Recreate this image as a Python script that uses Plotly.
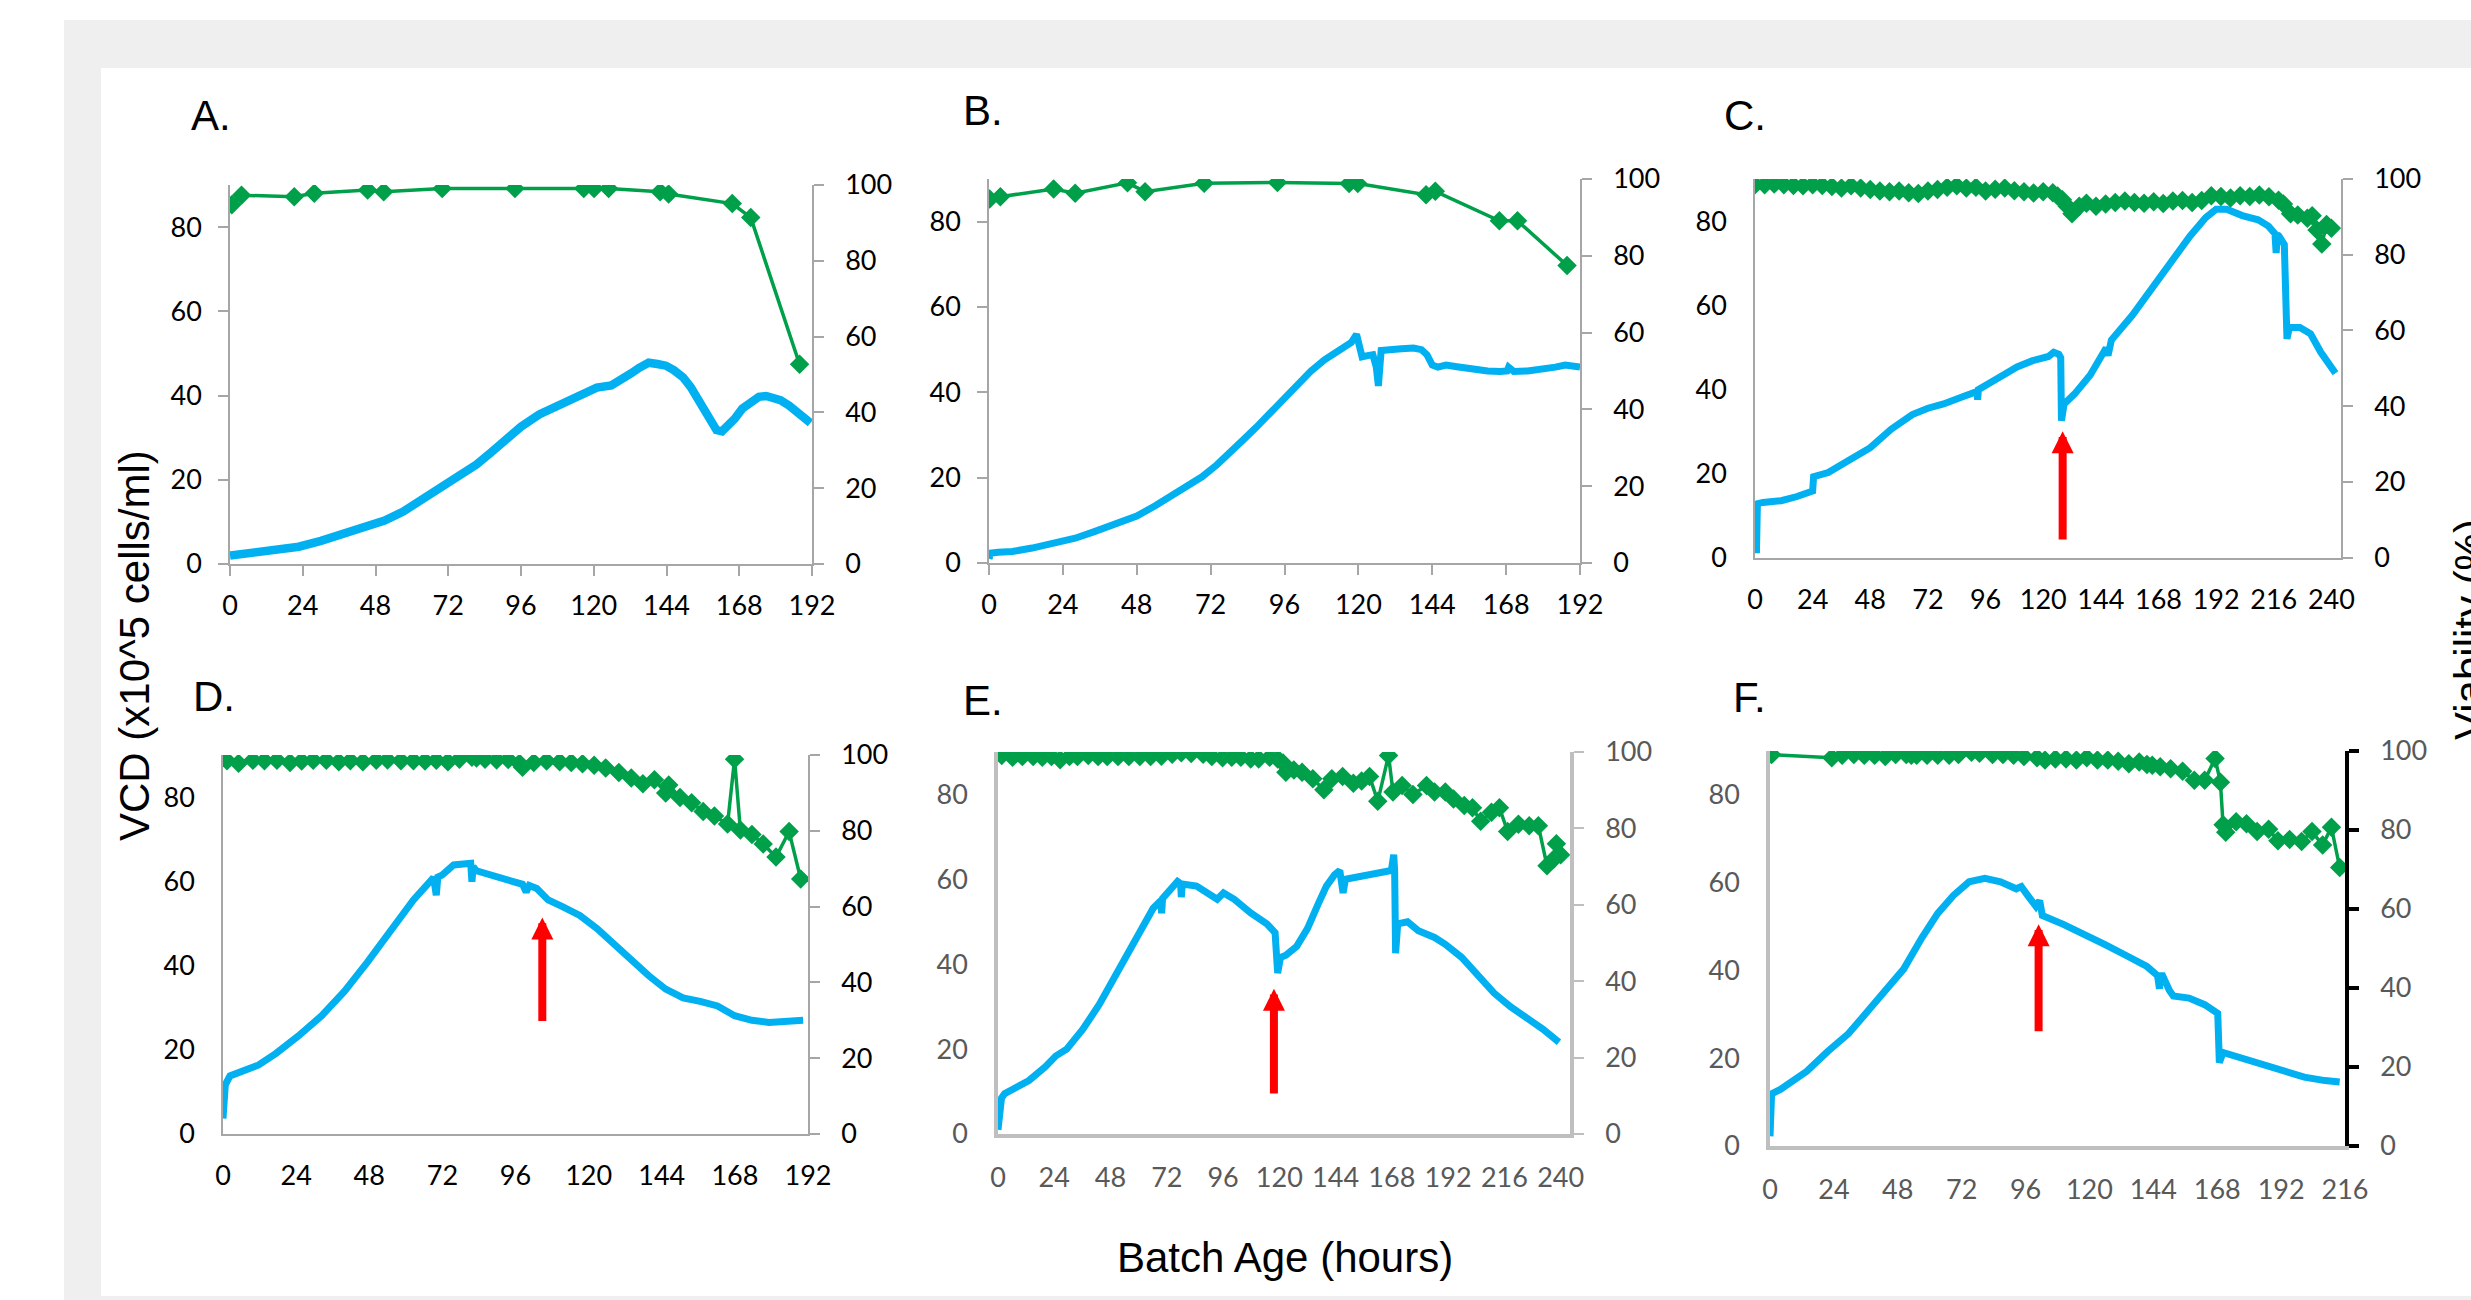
import plotly.graph_objects as go

W, H = 2471, 1300

# ---------------- data ----------------
# Panel A
a_vcd_t = [0, 3, 8, 14, 22.7, 30, 37.8, 45, 51, 57, 62.4, 67, 71.9, 77, 81.3, 86, 90.8, 96, 102, 107, 111.6, 116, 121,
           125.8, 129, 132.4, 135, 138.1, 141, 143.8, 146.5, 149.5, 152, 154.2, 156.5, 158.9, 160.5, 162.3, 164, 166.5,
           169, 172.2, 174.5, 176.9, 179, 181.6, 184.5, 187.3, 189.5, 191.5]
a_vcd = [2.0, 2.3, 2.8, 3.3, 4.1, 5.5, 7.4, 8.8, 10.3, 12.4, 14.8, 16.8, 18.9, 21.2, 23.6, 26.4, 29.6, 32.6, 35.5, 37.2,
         38.6, 40.4, 41.9, 42.4, 43.6, 45.3, 46.6, 47.8, 47.5, 47.1, 46.0, 44.3, 42.0, 39.4, 36.2, 33.0, 31.8, 31.5, 32.5,
         34.5, 36.9, 38.9, 39.7, 39.9, 39.6, 38.9, 37.6, 36.0, 34.8, 33.5]
a_via_t = [0.6, 3.8, 21.2, 27.8, 45.4, 50.7, 70, 94, 116.7, 120.1, 124.9, 141.9, 144.7, 165.7, 171.8, 187.9]
a_via = [94.8, 97.3, 96.9, 97.8, 98.7, 98.2, 99.1, 99.1, 99.1, 99.1, 99.1, 98.2, 97.6, 95.1, 91.4, 52.7]

# Panel B
b_vcd_t = [0, 0.5, 3, 7.6, 14, 21.7, 28, 34, 41, 48, 54, 60.4, 65, 69.2, 74, 78, 82.5, 86.8, 91, 95.6, 100, 104.5, 109,
           113.3, 117.7, 119.4, 120.3, 121.2, 123, 124.7, 125.8, 126.5, 127.4, 130.9, 134, 137.9, 140.5, 142.3, 144,
           145.8, 148.5, 152, 157.3, 162, 166, 168.3, 168.8, 170.5, 175, 180.2, 184, 187.2, 190, 192]
b_vcd = [1.0, 2.3, 2.5, 2.7, 3.5, 4.7, 5.8, 7.3, 9.0, 11.0, 13.4, 16.3, 18.2, 20.2, 23.0, 26.0, 28.8, 31.8, 34.9, 38.1,
         41.5, 44.9, 47.6, 49.8, 51.7, 53.6, 50.2, 48.3, 48.6, 48.8, 46.0, 41.5, 49.8, 49.8, 50.2, 50.4, 50.0, 48.8, 46.4,
         45.9, 46.4, 46.0, 45.4, 45.0, 44.9, 45.0, 45.9, 44.9, 45.0, 45.4, 45.9, 46.4, 46.2, 45.9]
b_via_t = [0.2, 3.7, 21, 28, 45, 50.7, 69.9, 93.7, 117, 119.8, 142, 145, 165.8, 171.7, 187.8]
b_via = [94.8, 95.4, 97.4, 96.3, 99.0, 96.7, 98.9, 99.1, 98.8, 98.8, 95.9, 96.8, 89.1, 89.1, 77.5]

# Panel C
c_vcd_t = [0.6, 1.0, 3.3, 10.9, 17.5, 24.0, 24.4, 30.5, 39.3, 48.0, 56.7, 65.5, 72.0, 78.5, 87.3, 92.5, 92.7, 93.0,
           100.4, 109.1, 115.6, 122.2, 124.4, 126.5, 127.3, 127.6, 128.7, 133.1, 139.6, 146.2, 147, 148.4, 157.1, 165.8,
           169.1, 174.5, 181.1, 187.6, 192.0, 196.4, 202.9, 209.5, 213.8, 216.5, 217.0, 217.5, 218.2, 220.4, 220.9,
           221.5, 222.5, 226.9, 231.3, 235.6, 241.7]
c_vcd = [1.0, 12.8, 13.1, 13.5, 14.5, 15.8, 19.2, 20.2, 23.2, 26.1, 30.5, 34.0, 35.5, 36.5, 38.4, 39.5, 37.5, 39.9, 42.4,
         45.3, 46.8, 47.8, 48.8, 48.3, 47.5, 32.5, 36.5, 38.9, 43.4, 49.8, 48.0, 51.7, 57.6, 64.5, 67.5, 71.4, 76.4, 80.8,
         82.8, 82.8, 81.3, 80.3, 78.8, 77.0, 72.4, 76.8, 76.4, 74.4, 60.0, 52.0, 54.7, 54.7, 53.2, 48.8, 43.8]
c_via_t = [0, 4, 8, 12, 16, 20, 24, 28, 32, 36, 40, 44, 48, 52, 56, 60, 64, 68, 72, 76, 80, 84, 88, 92, 96, 100, 104,
           108, 112, 116, 120, 124, 126, 128, 130, 132, 135, 138, 142, 146, 150, 154, 158, 162, 166, 170, 174, 178, 182,
           186, 190, 194, 198, 202, 206, 210, 214, 218, 220, 223, 226, 230, 232, 234, 236, 238, 240]
c_via = [98.5, 98.5, 98.7, 98.5, 98.3, 98.2, 98.5, 98.3, 98.0, 97.6, 98.2, 97.6, 97.2, 96.8, 96.6, 96.8, 96.4, 96.2,
         96.8, 97.2, 97.8, 98.2, 97.6, 97.8, 96.8, 97.3, 97.6, 96.9, 96.6, 96.3, 96.6, 96.4, 95.5, 94.5, 92.8, 90.8,
         92.8, 93.6, 92.8, 93.4, 93.8, 94.2, 93.8, 93.6, 94.0, 93.5, 94.2, 94.3, 93.8, 94.3, 95.6, 95.4, 95.0, 95.6,
         95.4, 95.8, 95.3, 94.4, 93.4, 90.8, 90.5, 89.6, 90.3, 86.5, 82.8, 88.0, 87.0]

# Panel D
d_vcd_t = [0, 0.75, 2.3, 6, 11.7, 17.3, 24.8, 32.4, 39.9, 47.4, 55, 62.5, 69.1, 70.0, 70.5, 71.9, 75.7, 81.3, 81.7, 82.1,
           83.2, 90.7, 98.3, 99.5, 100.5, 103, 106.7, 111.4, 117.1, 122.7, 128.4, 134, 139.7, 145.3, 151, 156.6, 162.3,
           167.9, 173.6, 179.2, 184.8, 190.4]
d_vcd = [3.7, 11.7, 13.8, 14.8, 16.4, 19.1, 23.3, 28.1, 33.9, 40.8, 48.2, 55.6, 60.9, 56.7, 61.0, 61.5, 63.9, 64.3, 59.9,
         63.5, 62.5, 60.7, 59.3, 57.5, 59.0, 58.3, 55.6, 54.0, 51.9, 48.8, 45.0, 41.3, 37.6, 34.4, 32.3, 31.5, 30.4,
         28.1, 27.0, 26.5, 26.8, 27.0]
d_via_t = [1.3, 5.1, 9.8, 13.6, 17.7, 22.0, 25.8, 29.6, 33.9, 38.0, 41.8, 45.9, 50.3, 54.0, 58.4, 62.5, 66.3, 70.0, 73.8,
           77.6, 81.7, 83.2, 86.0, 89.8, 93.6, 97.3, 98.3, 102.0, 106.2, 110.5, 114.3, 118.0, 121.8, 125.6, 129.9,
           134.0, 137.8, 141.6, 145.3, 146.3, 150.0, 153.8, 157.6, 161.3, 165.6, 167.9, 169.8, 173.6, 177.3, 181.5,
           185.8, 189.6]
d_via = [98.5, 97.8, 98.6, 98.5, 98.6, 98.0, 98.4, 98.6, 98.6, 98.2, 98.5, 98.2, 98.6, 98.7, 98.5, 98.5, 98.4, 98.6,
         98.2, 98.9, 99.4, 99.2, 98.9, 98.7, 98.8, 97.8, 96.8, 98.0, 98.4, 98.2, 98.0, 97.7, 97.3, 96.6, 95.4, 93.9,
         92.4, 93.5, 90.0, 92.1, 88.8, 87.4, 85.1, 83.9, 81.8, 98.9, 80.2, 79.0, 76.5, 73.1, 79.8, 67.3]

# Panel E
e_vcd_t = [0, 0.7, 1.5, 2.8, 6.2, 13.2, 20.1, 24.7, 29.3, 36.2, 43.2, 50.1, 57.0, 61.6, 66.2, 69.5, 69.8, 70.2, 73.2,
           76.6, 77.9, 78.2, 78.6, 84.7, 89.3, 93.5, 96.2, 100.8, 107.8, 114.7, 118.2, 119.3, 120.5, 122.8, 127.4, 132.0,
           136.6, 140.1, 143.6, 145.8, 146.6, 147.2, 148.2, 153.9, 160.9, 167.8, 168.8, 169.2, 169.6, 170.5, 174.7,
           179.3, 186.2, 190.8, 197.8, 204.7, 211.6, 218.6, 225.5, 232.4, 239.3]
e_vcd = [1.0, 7.9, 8.5, 9.5, 10.5, 12.6, 15.8, 18.4, 20.0, 24.7, 30.5, 37.4, 44.2, 48.9, 53.2, 55.0, 52.0, 55.5, 57.4,
         59.5, 59.0, 55.8, 58.9, 58.4, 56.8, 55.3, 56.8, 55.3, 52.1, 49.5, 47.4, 37.9, 41.6, 42.1, 44.2, 48.4, 54.2,
         58.4, 61.1, 62.1, 59.0, 56.8, 60.0, 60.5, 61.4, 62.1, 65.8, 62.0, 42.6, 49.5, 50.0, 47.9, 46.3, 44.7, 41.6,
         37.4, 33.2, 30.0, 27.4, 24.7, 21.6]
e_via_t = [1.6, 6.2, 10.4, 15.0, 18.9, 22.8, 26.5, 30.5, 33.9, 38.5, 42.7, 46.6, 51.2, 55.8, 60.5, 65.1, 69.7, 74.3,
           78.2, 82.4, 87.5, 91.2, 95.8, 99.7, 103.6, 107.8, 111.2, 115.9, 119.3, 121.6, 122.8, 126.2, 129.7, 134.3,
           139.0, 142.4, 147.0, 151.6, 155.1, 158.5, 162.0, 166.6, 168.5, 172.4, 177.0, 182.8, 186.2, 190.8, 194.3,
           198.9, 202.4, 205.9, 210.5, 213.9, 217.4, 222.0, 226.6, 230.5, 234.2, 237.0, 238.2, 240.0]
e_via = [99.1, 98.6, 98.8, 98.8, 98.6, 98.8, 98.0, 98.8, 98.8, 99.1, 98.8, 98.8, 98.8, 98.8, 98.8, 98.8, 98.9, 99.4,
         99.8, 99.6, 99.4, 98.8, 98.5, 98.6, 98.6, 98.2, 98.2, 98.6, 98.2, 97.1, 94.7, 95.3, 94.7, 93.0, 90.1, 93.0,
         93.6, 91.8, 92.4, 93.6, 87.1, 99.1, 89.5, 91.2, 88.9, 91.2, 89.5, 89.5, 87.7, 86.0, 85.4, 81.9, 84.2, 85.4,
         79.2, 81.1, 80.7, 80.7, 70.2, 71.9, 76.0, 73.1]

# Panel F
f_vcd_t = [0, 0.6, 3.9, 13.8, 21.6, 29.5, 37.4, 45.2, 50.2, 57.1, 63.0, 68.9, 74.8, 80.7, 86.6, 92.5, 94.4, 97.4, 99.9,
           101.3, 102.3, 110.2, 118.0, 125.9, 133.8, 141.6, 145.6, 146.3, 146.6, 147.5, 150, 151.5, 157.4, 163.3, 168.2,
           168.8, 170.2, 177.1, 185.0, 192.8, 200.7, 208.5, 214.0]
f_vcd = [2.2, 11.9, 12.9, 17.0, 21.5, 25.6, 31.2, 36.8, 40.3, 47.5, 53.0, 57.1, 60.2, 61.0, 60.2, 58.6, 59.1, 56.6, 54.6,
         55.9, 52.5, 50.5, 48.0, 45.9, 43.4, 40.9, 38.8, 35.8, 38.8, 38.8, 35.5, 34.2, 33.7, 32.2, 30.2, 19.0, 21.3,
         20.0, 18.5, 17.0, 15.7, 14.9, 14.6]
f_via_t = [0.6, 23.2, 27.1, 31.5, 35.4, 39.3, 43.3, 47.2, 51.2, 53.1, 55.1, 59.0, 63.0, 67.3, 70.8, 75.7, 78.7, 83.6,
           87.5, 91.5, 95.4, 100.3, 103.3, 107.2, 111.2, 115.1, 119.0, 123.0, 126.9, 130.8, 134.8, 138.7, 141.6, 143.6,
           146.6, 150.5, 155.0, 159.4, 163.3, 167.2, 169.2, 170.2, 171.2, 175.1, 179.0, 183.0, 187.3, 190.8, 195.2,
           199.7, 203.6, 207.6, 210.9, 214.0]
f_via = [99.1, 98.3, 98.9, 99.1, 98.9, 98.9, 98.6, 99.1, 99.1, 98.9, 98.9, 98.9, 98.9, 98.9, 99.1, 99.7, 99.4, 99.1,
         99.1, 98.9, 98.6, 98.3, 97.7, 98.0, 98.0, 97.7, 98.3, 97.7, 97.7, 97.4, 96.8, 97.2, 96.6, 96.4, 96.0, 95.5,
         94.9, 92.6, 92.6, 98.1, 92.1, 81.3, 79.4, 82.1, 81.6, 79.6, 80.2, 77.3, 77.6, 77.1, 79.6, 76.2, 80.7, 70.5]

panel_labels = ["A.", "B.", "C.", "D.", "E.", "F."]
x_max = [192, 192, 244, 192, 244, 216]
x_ticks = [[0, 24, 48, 72, 96, 120, 144, 168, 192],
           [0, 24, 48, 72, 96, 120, 144, 168, 192],
           [0, 24, 48, 72, 96, 120, 144, 168, 192, 216, 240],
           [0, 24, 48, 72, 96, 120, 144, 168, 192],
           [0, 24, 48, 72, 96, 120, 144, 168, 192, 216, 240],
           [0, 24, 48, 72, 96, 120, 144, 168, 192, 216]]
vcd_ticks = [0, 20, 40, 60, 80]
via_ticks = [0, 20, 40, 60, 80, 100]

# red arrows (panel index, time, base VCD, tip VCD)
arrow_panel = [2, 3, 4, 5]
arrow_t = [128.1, 104.8, 117.7, 100.9]
arrow_base = [3.9, 26.5, 9.2, 25.8]
arrow_tip = [30.0, 51.4, 34.2, 50.5]

vcd_t = [a_vcd_t, b_vcd_t, c_vcd_t, d_vcd_t, e_vcd_t, f_vcd_t]
vcd = [a_vcd, b_vcd, c_vcd, d_vcd, e_vcd, f_vcd]
via_t = [a_via_t, b_via_t, c_via_t, d_via_t, e_via_t, f_via_t]
via = [a_via, b_via, c_via, d_via, e_via, f_via]

# ---------------- layout (pixel boxes) ----------------
boxes = [(230, 812, 185, 564), (989, 1580, 179, 563), (1755, 2341, 179, 557.5),
         (223, 808, 755, 1134), (998, 1570, 752, 1134), (1770, 2345, 751, 1146)]
label_pos = [(189, 115), (961, 110), (1722, 116), (191, 696), (961, 700), (1731, 697)]

BLUE = "#00b0f0"
GREEN = "#00a04b"
LGRAY = "#a6a6a6"
TICKFONT = "Lato"

fig = go.Figure()
layout = dict(width=W, height=H, margin=dict(l=0, r=0, t=0, b=0, pad=0, autoexpand=False),
              paper_bgcolor="white", plot_bgcolor="rgba(0,0,0,0)", showlegend=False, template="none")


def px(x):
    return x / W


def py(y):
    return 1 - y / H


for i in range(6):
    xi = i + 1
    yl = 2 * i + 1
    yr = 2 * i + 2
    xname = "x" if xi == 1 else f"x{xi}"
    ylname = "y" if yl == 1 else f"y{yl}"
    yrname = f"y{yr}"
    x0, x1, y0, y1 = boxes[i]
    fig.add_trace(go.Scatter(x=vcd_t[i], y=vcd[i], mode="lines", xaxis=xname, yaxis=ylname,
                             line=dict(color=BLUE, width=8.5 if i == 0 else 7), hoverinfo="skip"))
    fig.add_trace(go.Scatter(x=via_t[i], y=via[i], mode="lines+markers", xaxis=xname, yaxis=yrname,
                             line=dict(color=GREEN, width=3.5),
                             marker=dict(symbol="diamond", size=15, color=GREEN, line=dict(width=0)),
                             hoverinfo="skip"))
    if i in (0, 1):
        lstyle = dict(color=LGRAY, w=1.5, ticks="outside")
        bstyle = dict(color=LGRAY, w=1.5, ticks="outside")
        rstyle = dict(color=LGRAY, w=1.5)
        fcol = "black"
    elif i in (2, 3):
        lstyle = dict(color=LGRAY, w=1.5, ticks="")
        bstyle = dict(color=LGRAY, w=1.5, ticks="")
        rstyle = dict(color=LGRAY, w=1.5)
        fcol = "black"
    elif i == 4:
        lstyle = dict(color="#bfbfbf", w=3.5, ticks="")
        bstyle = dict(color="#bfbfbf", w=3.5, ticks="")
        rstyle = dict(color="#bfbfbf", w=3.5)
        fcol = "#595959"
    else:
        lstyle = dict(color="#bfbfbf", w=3.5, ticks="")
        bstyle = dict(color="#bfbfbf", w=3.5, ticks="")
        rstyle = dict(color="black", w=3.5)
        fcol = "#595959"
    tf = dict(family=TICKFONT, size=27, color=fcol)
    layout["xaxis" if xi == 1 else f"xaxis{xi}"] = dict(
        domain=[px(x0), px(x1)], anchor=ylname, range=[0, x_max[i]], tickmode="array",
        tickvals=x_ticks[i], showgrid=False, zeroline=False, showline=True, automargin=False,
        linecolor=bstyle["color"], linewidth=bstyle["w"], ticks=bstyle["ticks"], ticklen=10,
        tickwidth=1.5, tickcolor=bstyle["color"], tickfont=tf,
        ticklabelstandoff=7 if bstyle["ticks"] else 17, fixedrange=True)
    layout["yaxis" if yl == 1 else f"yaxis{yl}"] = dict(
        domain=[py(y1), py(y0)], anchor=xname, range=[0, 90], tickmode="array", tickvals=vcd_ticks,
        showgrid=False, zeroline=False, showline=True, automargin=False,
        linecolor=lstyle["color"], linewidth=lstyle["w"],
        ticks=lstyle["ticks"], ticklen=10, tickwidth=1.5, tickcolor=lstyle["color"], tickfont=tf,
        ticklabelstandoff=11 if lstyle["ticks"] else 21, fixedrange=True)
    layout[f"yaxis{yr}"] = dict(
        domain=[py(y1), py(y0)], anchor=xname, overlaying=ylname, side="right", range=[0, 100],
        tickmode="array", tickvals=via_ticks, showgrid=False, zeroline=False, showline=True, automargin=False,
        linecolor=rstyle["color"], linewidth=rstyle["w"], ticks="outside", ticklen=10,
        tickwidth=rstyle["w"] if i == 5 else 1.5, tickcolor=rstyle["color"], tickfont=tf,
        ticklabelstandoff=16, fixedrange=True)

fig.update_layout(**layout)

shapes = [
    dict(type="rect", xref="paper", yref="paper", x0=px(64), x1=px(W + 5), y0=py(H + 5), y1=py(20),
         fillcolor="#efefef", line=dict(width=0), layer="below"),
    dict(type="rect", xref="paper", yref="paper", x0=px(101), x1=px(W + 5), y0=py(1296), y1=py(68),
         fillcolor="white", line=dict(width=0), layer="below"),
]
fig.update_layout(shapes=shapes)

annotations = []
for i, lab in enumerate(panel_labels):
    lx, ly = label_pos[i]
    annotations.append(dict(text=lab, x=px(lx), y=py(ly), xref="paper", yref="paper", xanchor="left",
                            yanchor="middle", showarrow=False,
                            font=dict(family="Liberation Sans", size=42, color="black")))

annotations.append(dict(text="VCD (x10^5 cells/ml)", x=px(134), y=py(646), xref="paper", yref="paper",
                        textangle=-90, showarrow=False, xanchor="center", yanchor="middle",
                        font=dict(family="Liberation Sans", size=42, color="black")))
annotations.append(dict(text="Batch Age (hours)", x=px(1285), y=py(1257), xref="paper", yref="paper",
                        showarrow=False, xanchor="center", yanchor="middle",
                        font=dict(family="Liberation Sans", size=42, color="black")))
annotations.append(dict(text="Viability (%)", x=px(2469), y=py(630), xref="paper", yref="paper",
                        textangle=-90, showarrow=False, xanchor="center", yanchor="middle",
                        font=dict(family="Liberation Sans", size=42, color="black")))

for k in range(len(arrow_panel)):
    i = arrow_panel[k]
    xi = i + 1
    yl = 2 * i + 1
    xname = "x" if xi == 1 else f"x{xi}"
    ylname = "y" if yl == 1 else f"y{yl}"
    annotations.append(dict(x=arrow_t[k], y=arrow_tip[k], ax=arrow_t[k], ay=arrow_base[k],
                            xref=xname, yref=ylname, axref=xname, ayref=ylname, text="",
                            showarrow=True, arrowhead=2, arrowsize=0.55, arrowwidth=8,
                            arrowcolor="#ff0000", standoff=0))

fig.update_layout(annotations=annotations)
fig.write_html("out.html", config={"displayModeBar": False, "responsive": False},
               post_script="document.body.style.margin='0';document.body.style.padding='0';"
                           "document.body.style.overflow='hidden';")
